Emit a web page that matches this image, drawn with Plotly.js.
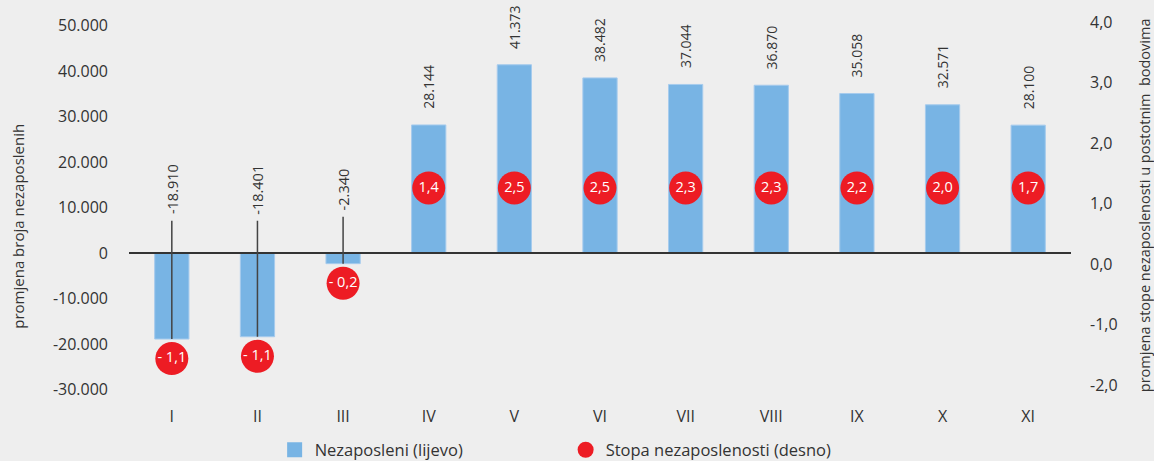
<!DOCTYPE html>
<html>
<head>
<meta charset="utf-8">
<script src="https://cdn.plot.ly/plotly-3.0.1.min.js"></script>
<style>
  html, body { margin: 0; padding: 0; background: #eeeeee; }
  #chart { width: 1154px; height: 461px; }
</style>
</head>
<body>
<div id="chart"></div>
<script>
// ---- data ----
var months = ['I', 'II', 'III', 'IV', 'V', 'VI', 'VII', 'VIII', 'IX', 'X', 'XI'];
var unemployedChange = [-18910, -18401, -2340, 28144, 41373, 38482, 37044, 36870, 35058, 32571, 28100];
var rateChange = [-1.1, -1.1, -0.2, 1.4, 2.5, 2.5, 2.3, 2.3, 2.2, 2.0, 1.7];
var leftTickVals = [-30000, -20000, -10000, 0, 10000, 20000, 30000, 40000, 50000];
var leftTickText = ['-30.000', '-20.000', '-10.000', '0', '10.000', '20.000', '30.000', '40.000', '50.000'];
var rightTickVals = [-2, -1, 0, 1, 2, 3, 4];
var rightTickText = ['-2,0', '-1,0', '0,0', '1,0', '2,0', '3,0', '4,0'];

// ---- helpers ----
function fmtThousands(v) {
  var s = Math.abs(v).toString().replace(/\B(?=(\d{3})+(?!\d))/g, '.');
  return (v < 0 ? '-' : '') + s;
}
function fmtRate(r) {
  var s = Math.abs(r).toFixed(1).replace('.', ',');
  return (r < 0 ? '- ' : '') + s;
}

var FONT = 'Open Sans, DejaVu Sans, sans-serif';
var TXT = '#333333';
var BLUE = '#78b4e4';
var RED = '#ed1c24';

// marker placement (in left-axis units): fixed band for positive, just below bar for negative
var markerY = rateChange.map(function (r, i) {
  return r >= 0 ? 14300 : unemployedChange[i] - 4300;
});

var bars = {
  type: 'bar',
  x: months,
  y: unemployedChange,
  name: 'Nezaposleni (lijevo)',
  marker: { color: BLUE, line: { color: '#a6cbed', width: 1 } },
  showlegend: false,
  hoverinfo: 'skip'
};

// legend entry for bars (square swatch)
var barsLegend = {
  type: 'scatter',
  mode: 'markers',
  x: [null],
  y: [null],
  name: 'Nezaposleni (lijevo)',
  marker: { color: BLUE, symbol: 'square', size: 15 },
  hoverinfo: 'skip'
};

var dots = {
  type: 'scatter',
  mode: 'markers',
  x: months,
  y: markerY,
  name: 'Stopa nezaposlenosti (desno)',
  marker: { color: RED, size: 33 },
  cliponaxis: false,
  hoverinfo: 'skip'
};

var dotText = {
  type: 'scatter',
  mode: 'text',
  x: months,
  y: markerY,
  text: rateChange.map(fmtRate),
  textposition: 'middle center',
  textfont: { family: FONT, size: 14.5, color: '#ffffff' },
  showlegend: false,
  cliponaxis: false,
  hoverinfo: 'skip'
};

// invisible trace to create the right axis
var rightAxisTrace = {
  type: 'scatter',
  mode: 'markers',
  x: [months[0]],
  y: [0],
  yaxis: 'y2',
  marker: { opacity: 0 },
  showlegend: false,
  hoverinfo: 'skip'
};

var annotations = unemployedChange.map(function (v, i) {
  if (v >= 0) {
    return {
      x: months[i], y: v, xref: 'x', yref: 'y',
      text: fmtThousands(v), textangle: -90,
      showarrow: false, yanchor: 'bottom', yshift: 14,
      font: { family: FONT, size: 14, color: TXT }
    };
  }
  return {
    x: months[i], y: v, xref: 'x', yref: 'y',
    text: fmtThousands(v), textangle: -90,
    showarrow: true, arrowhead: 0, arrowwidth: 1.5, arrowcolor: '#444444',
    axref: 'pixel', ax: 0, ayref: 'y', ay: 14000,
    startstandoff: 5,
    font: { family: FONT, size: 14.5, color: TXT }
  };
});

annotations.push({
  text: 'promjena broja nezaposlenih',
  xref: 'paper', yref: 'paper', x: 0, y: 0.45,
  xshift: -111, textangle: -90, showarrow: false,
  xanchor: 'center', yanchor: 'middle',
  font: { family: FONT, size: 15, color: TXT }
});
annotations.push({
  text: 'promjena stope nezaposlenosti u postotnim  bodovima',
  xref: 'paper', yref: 'paper', x: 1, y: 0.506,
  xshift: 73, textangle: -90, showarrow: false,
  xanchor: 'center', yanchor: 'middle',
  font: { family: FONT, size: 14.5, color: TXT }
});

var layout = {
  width: 1154,
  height: 461,
  paper_bgcolor: '#eeeeee',
  plot_bgcolor: '#eeeeee',
  margin: { l: 129, r: 83, t: 15, b: 61, autoexpand: false },
  font: { family: FONT, size: 16, color: TXT },
  bargap: 0.6,
  showlegend: true,
  legend: {
    orientation: 'h',
    xref: 'paper', yref: 'paper',
    x: 0.1546, y: -0.13, xanchor: 'left', yanchor: 'middle',
    entrywidth: 246, entrywidthmode: 'pixels',
    font: { family: FONT, size: 16.5, color: TXT },
    bgcolor: 'rgba(0,0,0,0)'
  },
  xaxis: {
    type: 'category',
    range: [-0.5, 10.5],
    showgrid: false, zeroline: false, showline: false,
    ticks: '', ticklabelstandoff: 5,
    tickfont: { family: FONT, size: 16, color: TXT }
  },
  yaxis: {
    range: [-32308, 52308],
    tickvals: leftTickVals, ticktext: leftTickText,
    showgrid: false, zeroline: false, showline: false,
    ticks: '', ticklabelstandoff: 20,
    tickfont: { family: FONT, size: 16, color: TXT }
  },
  yaxis2: {
    overlaying: 'y', side: 'right',
    range: [-2.248, 4.116],
    tickvals: rightTickVals, ticktext: rightTickText,
    showgrid: false, zeroline: false, showline: false,
    ticks: '', ticklabelstandoff: 18,
    tickfont: { family: FONT, size: 16, color: TXT }
  },
  shapes: [{
    type: 'line', xref: 'paper', x0: 0, x1: 1, yref: 'y', y0: 0, y1: 0,
    line: { color: '#333333', width: 2 }, layer: 'above'
  }],
  annotations: annotations
};

Plotly.newPlot('chart', [bars, rightAxisTrace, barsLegend, dots, dotText], layout, { staticPlot: true, displayModeBar: false });
</script>
</body>
</html>
